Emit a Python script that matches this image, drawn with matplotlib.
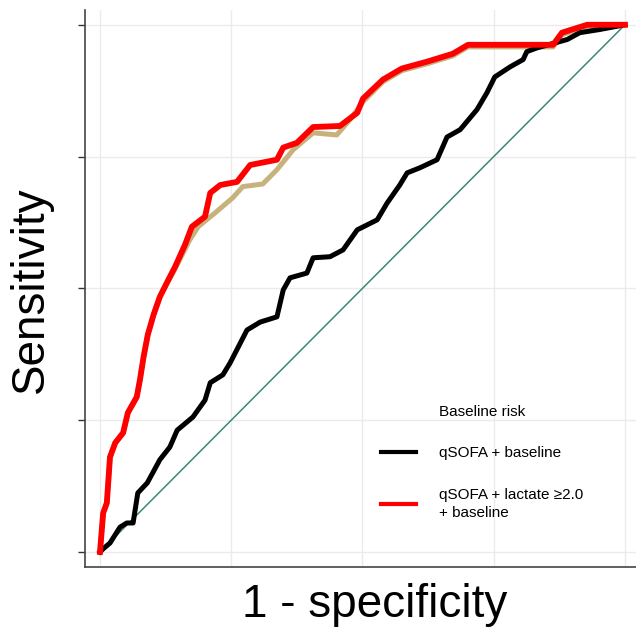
import matplotlib
matplotlib.use("Agg")
import matplotlib.pyplot as plt
from matplotlib.lines import Line2D

plt.rcParams['font.family'] = ['Liberation Sans', 'DejaVu Sans']

# ROC curves (1 - specificity, sensitivity)
lact_fpr = [0.0, 0.006, 0.013, 0.019, 0.029, 0.044, 0.053, 0.070, 0.076, 0.083, 0.091, 0.102,
            0.114, 0.128, 0.143, 0.162, 0.175, 0.200, 0.210, 0.229, 0.261, 0.286, 0.337, 0.349,
            0.375, 0.406, 0.457, 0.490, 0.501, 0.539, 0.575, 0.623, 0.672, 0.701, 0.863, 0.880,
            0.928, 1.0]
lact_tpr = [0.0, 0.074, 0.093, 0.180, 0.207, 0.226, 0.264, 0.294, 0.326, 0.370, 0.412, 0.450,
            0.484, 0.512, 0.541, 0.583, 0.617, 0.636, 0.681, 0.696, 0.702, 0.734, 0.744, 0.767,
            0.776, 0.806, 0.808, 0.833, 0.860, 0.896, 0.917, 0.930, 0.945, 0.962, 0.962, 0.985,
            1.0, 1.0]

base_fpr = [0.0, 0.006, 0.013, 0.019, 0.029, 0.044, 0.053, 0.070, 0.076, 0.083, 0.091, 0.102,
            0.114, 0.143, 0.171, 0.187, 0.219, 0.253, 0.272, 0.310, 0.337, 0.368, 0.406, 0.451,
            0.476, 0.501, 0.539, 0.575, 0.623, 0.672, 0.701, 0.863, 0.880, 0.928, 1.0]
base_tpr = [0.0, 0.074, 0.093, 0.180, 0.207, 0.226, 0.264, 0.294, 0.326, 0.370, 0.412, 0.450,
            0.484, 0.537, 0.592, 0.617, 0.643, 0.672, 0.693, 0.698, 0.725, 0.763, 0.795, 0.791,
            0.820, 0.854, 0.892, 0.913, 0.926, 0.941, 0.958, 0.958, 0.981, 0.996, 1.0]

qsofa_fpr = [0.0, 0.006, 0.019, 0.038, 0.051, 0.063, 0.072, 0.090, 0.114, 0.133, 0.147, 0.177,
             0.200, 0.210, 0.234, 0.248, 0.280, 0.305, 0.337, 0.349, 0.362, 0.394, 0.406, 0.438,
             0.463, 0.490, 0.528, 0.547, 0.571, 0.585, 0.610, 0.642, 0.661, 0.686, 0.718, 0.737,
             0.752, 0.781, 0.806, 0.813, 0.832, 0.890, 0.914, 0.952, 1.0]
qsofa_tpr = [0.0, 0.006, 0.017, 0.047, 0.055, 0.055, 0.112, 0.131, 0.175, 0.199, 0.231, 0.256,
             0.288, 0.321, 0.336, 0.359, 0.421, 0.436, 0.446, 0.497, 0.520, 0.529, 0.558, 0.560,
             0.573, 0.611, 0.630, 0.662, 0.696, 0.719, 0.729, 0.744, 0.787, 0.801, 0.839, 0.871,
             0.901, 0.920, 0.934, 0.949, 0.956, 0.972, 0.985, 0.991, 1.0]

labels = ["Baseline risk", "qSOFA + baseline", "qSOFA + lactate \u22652.0\n+ baseline"]
grid_ticks = [0, 0.25, 0.5, 0.75, 1.0]

fig = plt.figure(figsize=(6.36, 6.32), dpi=100)
ax = fig.add_axes([85 / 636, 65 / 632, 551 / 636, 557 / 632])

ax.plot([0, 1], [0, 1], color="#3f8579", lw=1.1, zorder=2)
ax.plot(base_fpr, base_tpr, color="#c8b27c", lw=3.6, zorder=3)
ax.plot(qsofa_fpr, qsofa_tpr, color="black", lw=3.6, zorder=4)
ax.plot(lact_fpr, lact_tpr, color="#ff0000", lw=4.2, zorder=5)

ax.set_xlim(-0.0286, 1.021)
ax.set_ylim(-0.0285, 1.028)
ax.set_xticks(grid_ticks)
ax.set_yticks(grid_ticks)
ax.set_xticklabels([])
ax.set_yticklabels([])
ax.tick_params(axis="x", length=0)
ax.tick_params(axis="y", length=5, width=1, color="#333333")
ax.grid(True, color="#ebebeb", lw=1)
ax.set_axisbelow(True)
for s in ["top", "right"]:
    ax.spines[s].set_visible(False)
for s in ["left", "bottom"]:
    ax.spines[s].set_color("#444444")
    ax.spines[s].set_linewidth(1.2)

fig.text(0.048, (632 - 290) / 632, "Sensitivity", rotation=90,
         fontsize=33, ha="center", va="center")
fig.text(375 / 636, (632 - 605) / 632, "1 - specificity", fontsize=33, ha="center", va="center")

handles = [Line2D([], [], color="none"),
           Line2D([], [], color="black", lw=3),
           Line2D([], [], color="#ff0000", lw=3)]
leg = ax.legend(handles, labels, loc="upper left", bbox_to_anchor=(373 / 636, (632 - 397) / 632),
                bbox_transform=fig.transFigure, frameon=False, fontsize=11,
                handlelength=2.3, handletextpad=1.5, labelspacing=1.8, borderpad=0)
leg.get_texts()[2].set_linespacing(1.4)

fig.savefig("out.png", dpi=100)
